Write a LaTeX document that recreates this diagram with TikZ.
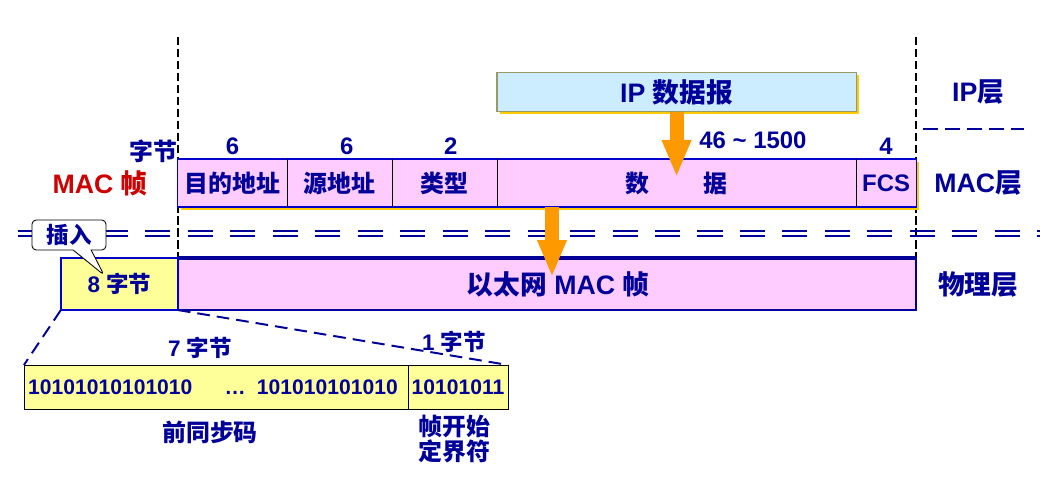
\documentclass[tikz,border=0pt]{standalone}
\usepackage{fontspec}
\setmainfont{Liberation Sans}
\newfontfamily\cjk{Noto Sans CJK SC}
\usetikzlibrary{arrows.meta,positioning,calc,shadows,shapes.callouts,backgrounds}
\definecolor{Navy}{HTML}{000099}
\definecolor{Blue}{HTML}{0000CC}
\definecolor{Red}{HTML}{CC0000}
\definecolor{Pink}{HTML}{FFCCFF}
\definecolor{Lemon}{HTML}{FFFF99}
\definecolor{Sky}{HTML}{CCECFF}
\definecolor{Gold}{HTML}{FFCC00}
\definecolor{Orange}{HTML}{FF9900}
\definecolor{Olive}{HTML}{999966}
\tikzset{
  txt/.style={text=Navy,inner sep=0pt,font=\fontsize{17}{19}\selectfont\bfseries},
  bigtxt/.style={txt,font=\fontsize{19}{21}\selectfont\bfseries},
  smalltxt/.style={txt,font=\fontsize{16}{18}\selectfont\bfseries},
  bits/.style={txt,font=\fontsize{15}{17}\selectfont\bfseries},
  goldshadow/.style={drop shadow={fill=Gold,opacity=1,shadow xshift=.075cm,shadow yshift=-.075cm}},
  pinkbox/.style={draw=Blue,fill=Pink,line width=.8pt,minimum height=1.2cm,outer sep=0pt,inner sep=0pt},
  field/.style={txt,minimum height=1.2cm,outer sep=0pt},
  ipbox/.style={bigtxt,draw=Olive,fill=Sky,line width=.8pt,minimum width=8.975cm,
    minimum height=.975cm,goldshadow},
  yellowbox/.style={smalltxt,draw=Blue,fill=Lemon,line width=1.4pt,minimum width=2.925cm,
    minimum height=1.3cm,outer sep=0pt},
  prebox/.style={bits,draw=black,fill=Lemon,line width=.6pt,minimum height=1.1cm,outer sep=0pt},
  note/.style={smalltxt,draw=black,fill=white,line width=.6pt,rounded corners=3pt,
    minimum width=1.85cm,minimum height=.75cm,rectangle callout,callout pointer width=.45cm},
  guide/.style={draw=black,line width=1.2pt,dash pattern=on 6pt off 2.5pt},
  rail/.style={draw=Navy,line width=1.3pt,dash pattern=on 17.8pt off 12.4pt},
  layersep/.style={draw=Navy,line width=1.5pt,dash pattern=on 10.7pt off 5pt},
  zoomline/.style={draw=Navy,line width=1.4pt,dash pattern=on 9pt off 5pt},
  fat/.style={-{Triangle[width=.675cm,length=.925cm]},draw=Orange,line width=.35cm}
}
\begin{document}
\begin{tikzpicture}[x=.025cm,y=-.025cm]
\useasboundingbox (0,0) rectangle (1040,480);
% MAC frame
\node[pinkbox,minimum width=18.45cm,goldshadow] (mac) at (547,183) {};
\node[field,anchor=west,minimum width=2.725cm] (dst) at (mac.west) {\cjk 目的地址};
\node[field,minimum width=2.625cm,right=0pt of dst] (src) {\cjk 源地址};
\node[field,minimum width=2.625cm,right=0pt of src] (type) {\cjk 类型};
\node[field,minimum width=8.975cm,right=0pt of type] (data) {\cjk 数\hspace{1.35cm}据};
\node[field,minimum width=1.5cm,right=0pt of data] (fcs) {FCS};
\foreach \f in {dst,src,type,data} \draw[line width=.6pt] (\f.north east) -- (\f.south east);
\node[txt,above=.1cm of dst] (ndst) {6};
\node[txt,above=.1cm of src,xshift=.18cm] (nsrc) {6};
\node[txt,above=.1cm of type,xshift=.16cm] (ntype) {2};
\node[txt,above=.25cm of data,xshift=1.91cm] (ndata) {46 \textasciitilde{} 1500};
\node[txt,above=.1cm of fcs] (nfcs) {4};
\node[txt,anchor=south east] (unit) at ([yshift=-.1cm]dst.north west) {\cjk 字节};
\node[bigtxt,text=Red,left=.75cm of dst] (macname) {MAC {\cjk 帧}};
% IP datagram
\node[ipbox,above=1.175cm of data] (ip) {IP {\cjk 数据报}};
% Ethernet frame
\node[pinkbox,bigtxt,draw=Navy,line width=1.4pt,minimum width=18.45cm,minimum height=1.3cm,
  below=1.275cm of mac] (eth) {\hspace*{.55cm}{\cjk 以太网} MAC {\cjk 帧}};
\draw[Navy,line width=3pt] (eth.north west) -- (eth.north east);
\node[yellowbox,left=0pt of eth] (eth8) {8 {\cjk 字节}};
% layers
\node[bigtxt,right=.45cm of fcs] (maclayer) {MAC{\cjk 层}};
\node[bigtxt] (iplayer) at (maclayer |- ip) {IP{\cjk 层}};
\node[bigtxt] (phylayer) at (maclayer |- eth) {\cjk 物理层};
\draw[layersep] (923,129) -- (1024,129);
\coordinate (top) at (0,37);
\begin{scope}[on background layer]
\draw[guide] (dst.west |- top) -- (dst.west |- eth.north);
\draw[guide] (fcs.east |- top) -- (fcs.east |- eth.north);
\end{scope}
\foreach \y in {231,236} \draw[rail] (18,\y) -- (1040,\y);
\node[note,callout absolute pointer={(104,275)}] (insert) at (69,235) {\cjk 插入};
% preamble
\node[prebox,minimum width=9.6cm] (sync) at (216,387) {};
\node[prebox,minimum width=2.5cm,right=0pt of sync] (sfd) {10101011};
\node[bits,anchor=west] (bitsa) at ([xshift=.1cm]sync.west) {10101010101010};
\node[bits,anchor=east] (bitsb) at ([xshift=-.25cm]sync.east) {101010101010};
\node[bits,anchor=base] (dots) at ($(bitsa.base)!.575!(bitsb.base)$) {…};
\draw[zoomline] (eth8.south west) -- (sync.north west);
\draw[zoomline] (eth8.south east) -- (sfd.north east);
\node[smalltxt,above=.15cm of sync,xshift=-.4cm] (n7) {7 {\cjk 字节}};
\node[smalltxt,above=.3cm of sfd,xshift=-.1cm] (n1) {1 {\cjk 字节}};
\node[txt,below=.3cm of sync,xshift=-.15cm] (presync) {\cjk 前同步码};
\node[txt,below=.15cm of sfd,xshift=-.1cm,align=center,
  font=\fontsize{17}{16}\selectfont\bfseries\cjk] (sfdname) {帧开始\\定界符};
% arrows
\draw[fat] (ip.south) -- ([yshift=.15cm]data.center);
\coordinate (drop) at ([xshift=1.375cm]data.south west);
\draw[fat] (drop) -- ($(drop |- eth.center)+(0,-7)$);
\end{tikzpicture}
\end{document}
